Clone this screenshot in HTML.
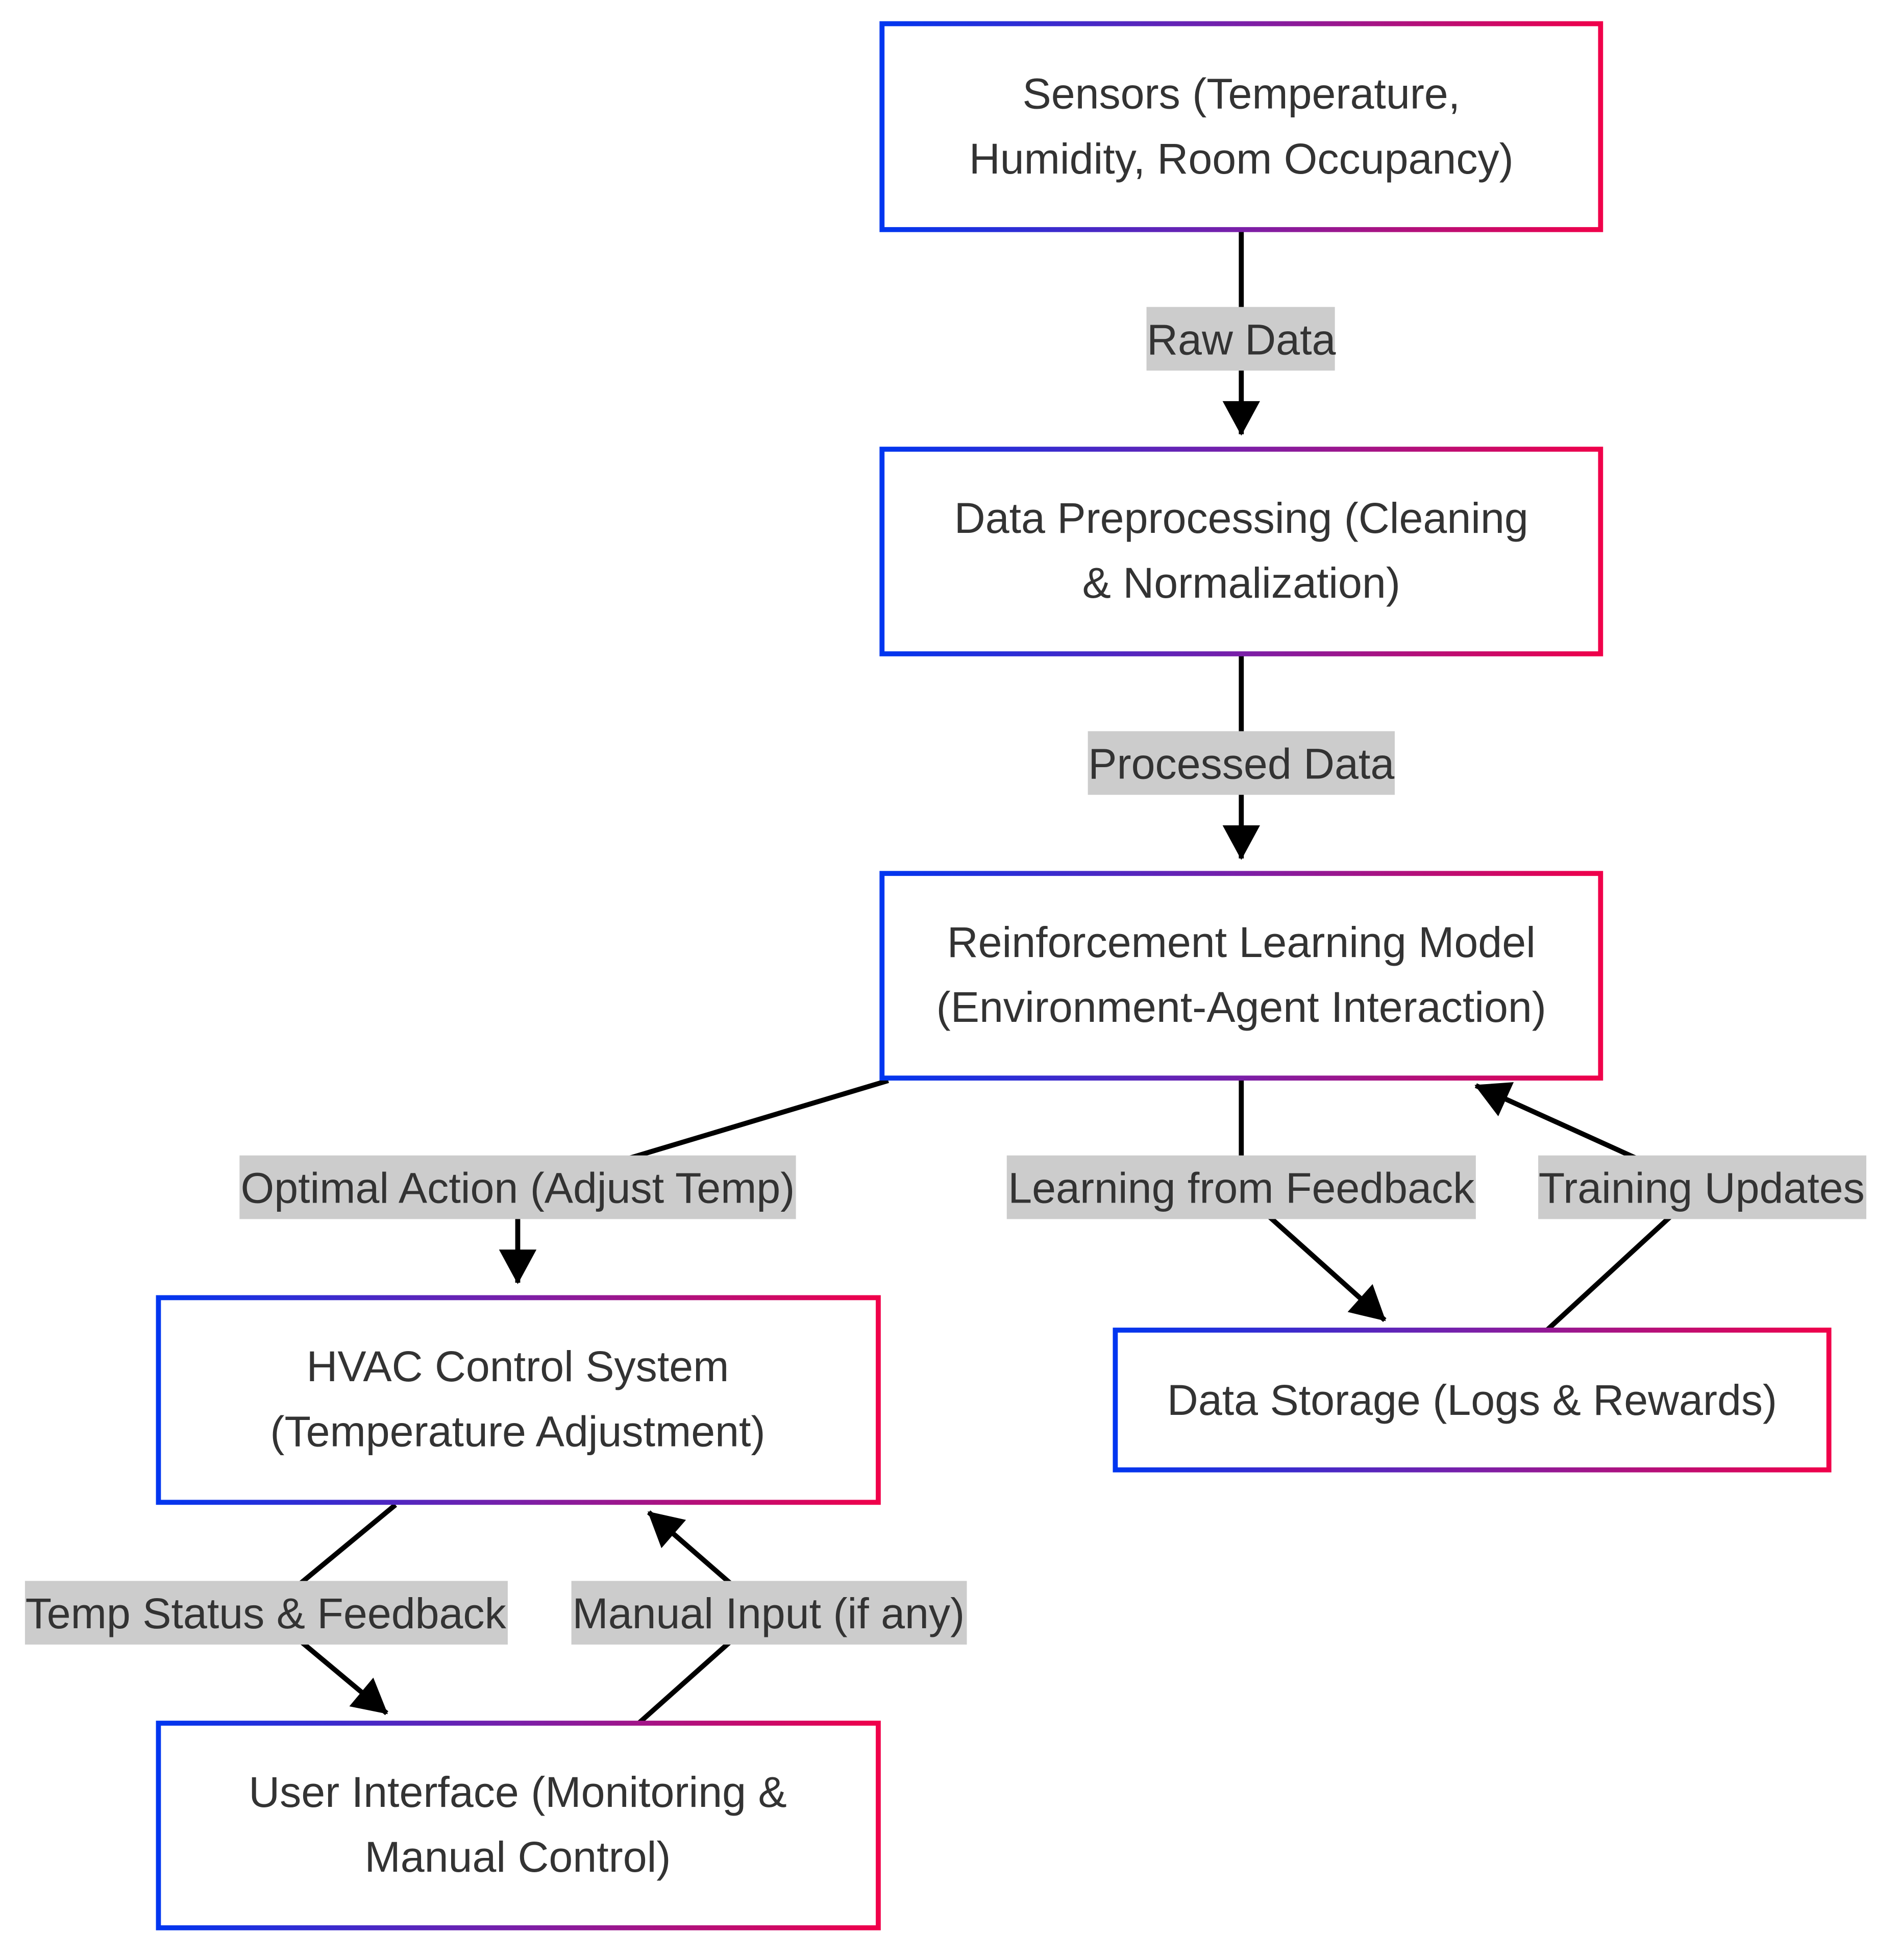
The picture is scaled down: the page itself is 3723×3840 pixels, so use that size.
<!DOCTYPE html>
<html><head><style>html,body{margin:0;padding:0;background:#fff}svg{display:block}</style></head>
<body>
<svg width="3723" height="3840" viewBox="0 0 1523 1570.8" preserveAspectRatio="none" xmlns="http://www.w3.org/2000/svg">
<defs>
<linearGradient id="g" x1="0" y1="0" x2="1" y2="0">
<stop offset="0" stop-color="#0036f0"/><stop offset="0.5" stop-color="#7a1fa8"/><stop offset="1" stop-color="#f0004a"/>
</linearGradient>
<marker id="a" markerUnits="userSpaceOnUse" markerWidth="30" markerHeight="30" viewBox="0 0 24 26" refX="23" refY="13" orient="auto">
<path d="M0,0 L24,13 L0,26 Z" fill="#000"/>
</marker>
</defs>
<g fill="none" stroke="#000" stroke-width="4">
<path d="M995,184 L995,348" marker-end="url(#a)"/>
<path d="M995,524 L995,688" marker-end="url(#a)"/>
<path d="M712,866 L415,955 L415,1028" marker-end="url(#a)"/>
<path d="M995,864 L995,955 L1110,1058" marker-end="url(#a)"/>
<path d="M1240,1066 L1364,952 L1183,870" marker-end="url(#a)"/>
<path d="M317,1206 L213,1292 L310,1373" marker-end="url(#a)"/>
<path d="M512,1381 L612,1292 L520,1212" marker-end="url(#a)"/>
</g>
<g fill="#fff" stroke="url(#g)" stroke-width="4">
<rect x="707" y="19" width="576" height="165"/>
<rect x="707" y="360" width="576" height="164"/>
<rect x="707" y="700" width="576" height="164"/>
<rect x="127" y="1040" width="577" height="164"/>
<rect x="894" y="1066" width="572" height="112"/>
<rect x="127" y="1381" width="577" height="164"/>
</g>
<g fill="#ccc">
<rect x="919" y="246" width="151" height="51"/>
<rect x="872" y="586" width="246" height="51"/>
<rect x="192" y="926" width="446" height="51"/>
<rect x="807" y="926" width="376" height="51"/>
<rect x="1233" y="926" width="263" height="51"/>
<rect x="20" y="1267" width="387" height="51"/>
<rect x="458" y="1267" width="317" height="51"/>
</g>
<g font-family="Liberation Sans, Arial, sans-serif" font-size="34.5" fill="#333" text-anchor="middle">
<text x="995" y="87">Sensors (Temperature,</text>
<text x="995" y="139">Humidity, Room Occupancy)</text>
<text x="995" y="427">Data Preprocessing (Cleaning</text>
<text x="995" y="479">&amp; Normalization)</text>
<text x="995" y="767">Reinforcement Learning Model</text>
<text x="995" y="819">(Environment-Agent Interaction)</text>
<text x="415" y="1107">HVAC Control System</text>
<text x="415" y="1159">(Temperature Adjustment)</text>
<text x="1180" y="1134">Data Storage (Logs &amp; Rewards)</text>
<text x="415" y="1448">User Interface (Monitoring &amp;</text>
<text x="415" y="1500">Manual Control)</text>
<text x="995" y="284">Raw Data</text>
<text x="995" y="624">Processed Data</text>
<text x="415" y="964">Optimal Action (Adjust Temp)</text>
<text x="995" y="964">Learning from Feedback</text>
<text x="1364" y="964">Training Updates</text>
<text x="213" y="1305">Temp Status &amp; Feedback</text>
<text x="616" y="1305">Manual Input (if any)</text>
</g>
</svg>
</body></html>
